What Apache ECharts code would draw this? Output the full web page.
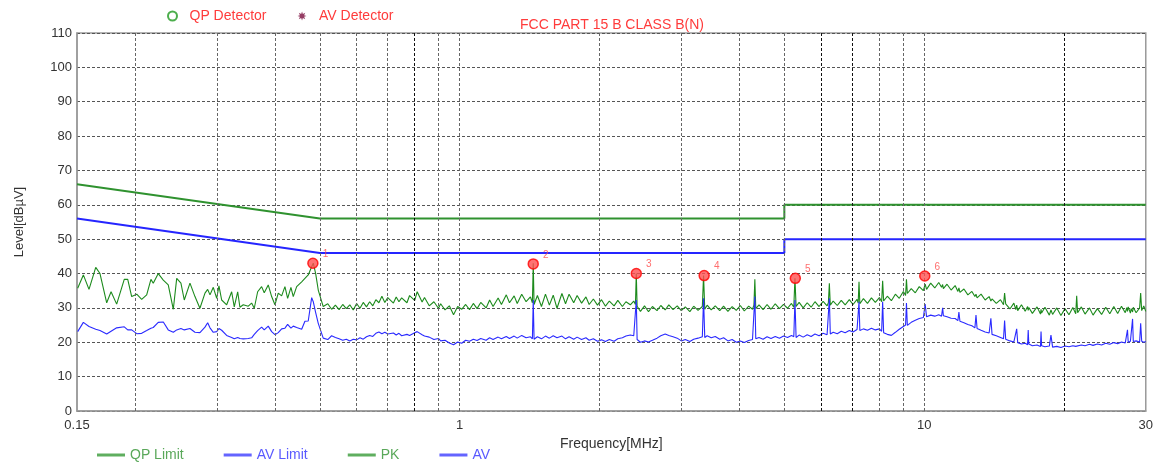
<!DOCTYPE html>
<html><head><meta charset="utf-8">
<script src="https://cdn.jsdelivr.net/npm/echarts@6/dist/echarts.min.js"></script>
<style>html,body{margin:0;padding:0;background:#fff}#c{width:1156px;height:462px}</style>
</head><body><div id="c"></div>
<script>
// ---- data (frequency in MHz, level in dBµV) ----
const freq = [
0.1505,0.1548,0.1592,0.1646,0.1681,0.1738,0.1776,0.1826,0.1896,0.1929,
0.1967,0.2017,0.2067,0.2119,0.2164,0.2189,0.2244,0.2301,0.2358,0.2418,
0.2459,0.2511,0.2553,0.2626,0.2692,0.2759,0.2829,0.2867,0.2900,0.2948,
0.2998,0.3032,0.3073,0.3150,0.3229,0.3271,0.3327,0.3364,0.3420,0.3506,
0.3565,0.3612,0.3673,0.3746,0.3795,0.3871,0.3937,0.4002,0.4068,0.4137,
0.4205,0.4262,0.4332,0.4382,0.4457,0.4569,0.4643,0.4720,0.4801,0.4839,
0.4897,0.4960,0.5084,
0.52,0.53,0.54,0.55,0.56,0.57,0.58,0.59,0.60,0.61,
0.62,0.63,0.64,0.65,0.66,0.67,0.68,0.69,0.70,0.72,
0.73,0.74,0.75,0.77,0.78,0.80,0.81,0.83,0.84,0.86,
0.88,0.90,0.91,0.93,0.95,0.97,0.99,1.01,1.03,1.05,
1.07,1.09,1.11,1.14,1.16,1.18,1.21,1.23,1.26,1.28,
1.31,1.33,1.36,1.39,1.42,1.434,1.44,1.446,1.47,1.50,
1.53,1.56,1.59,1.62,1.66,1.69,1.72,1.76,1.79,1.83,
1.87,1.90,1.94,1.98,2.02,2.06,2.10,2.15,2.19,2.24,
2.28,2.33,2.37,2.39,2.40,2.41,2.45,2.50,2.55,2.60,
2.66,2.71,2.77,2.82,2.88,2.94,3.00,3.06,3.13,3.19,
3.26,3.33,3.35,3.37,3.41,3.48,3.55,3.63,3.70,3.78,
3.86,3.94,4.02,4.10,4.19,4.27,4.30,4.32,4.34,4.41,
4.50,4.59,4.68,4.78,4.88,4.98,5.08,5.18,5.24,5.27,
5.30,5.38,5.49,5.60,5.71,5.82,5.94,6.06,6.18,6.22,
6.25,6.28,6.37,6.50,6.63,6.76,6.90,7.03,7.17,7.21,
7.24,7.27,7.40,7.55,7.70,7.85,8.01,8.10,8.14,8.18,
8.33,8.50,8.67,8.84,9.02,9.12,9.16,9.20,9.38,9.57,
9.76,9.96,10.05,10.12,10.33,10.54,10.75,10.90,10.96,11.00,
11.20,11.43,11.66,11.82,11.88,11.94,12.18,12.42,12.67,12.86,
12.93,13.00,13.26,13.53,13.80,13.92,14.00,14.3,14.6,14.82,
14.9,14.98,15.3,15.6,15.75,15.82,15.9,16.2,16.5,16.7,
16.75,16.8,17.1,17.5,17.8,17.85,17.9,18.2,18.6,18.75,
18.9,19.3,19.7,20.1,20.5,20.9,21.2,21.3,21.4,21.8,
22.2,22.7,23.1,23.6,24.1,24.6,25.1,25.6,26.1,26.6,
27.1,27.3,27.4,27.5,27.8,27.9,28.1,28.2,28.6,29.1,
29.25,29.4,29.7,30.0
];
const pk = [
35.7,39.6,35.4,41.8,40.0,31.5,34.7,31.1,38.3,38.3,
33.3,34.0,32.5,33.8,38.3,37.2,40.0,38.1,36.7,29.6,
38.6,37.2,32.3,37.2,33.3,29.9,34.3,35.4,33.8,36.0,
32.8,36.4,32.3,30.9,34.7,30.3,34.7,30.2,30.9,30.5,
31.4,29.9,34.7,36.2,34.4,36.7,33.3,30.9,34.3,33.5,
36.2,32.8,36.0,33.3,36.2,37.6,38.6,39.6,42.0,43.0,
40.0,35.2,30.4,
31.2,29.6,30.8,29.5,31.0,29.8,30.9,29.4,31.3,29.9,
31.6,30.3,31.8,30.6,32.4,31.5,33.4,31.6,33.0,31.4,
33.2,31.8,32.9,31.5,33.6,32.2,34.7,31.7,33.0,30.6,
31.8,29.9,31.2,29.4,30.6,28.0,30.4,29.6,31.0,29.5,
31.3,29.8,31.6,30.0,32.3,30.4,32.9,31.0,33.8,31.5,
33.5,31.3,34.0,31.8,33.2,31.5,43.0,31.0,33.6,30.4,
34.0,30.8,33.7,29.9,34.2,31.2,34.0,31.5,33.6,31.4,
33.2,31.0,32.6,30.8,32.4,30.5,32.0,30.6,32.2,30.4,
31.8,30.9,32.0,31.0,40.0,30.5,29.0,30.6,28.9,30.4,
29.2,30.7,29.4,30.9,29.5,30.6,29.2,30.3,28.9,30.5,
29.3,30.4,39.4,29.6,30.8,29.4,30.6,29.2,30.5,29.0,
30.4,29.3,30.7,29.1,30.5,29.6,30.8,38.3,29.8,30.9,
29.5,31.0,29.6,31.2,29.8,31.0,29.9,31.3,30.2,38.6,
30.4,31.6,30.0,31.5,30.2,31.8,30.4,31.9,30.6,31.5,
37.2,30.8,32.0,30.7,32.2,30.9,32.4,31.0,32.5,31.4,
37.6,31.2,32.7,31.3,32.9,31.6,33.0,31.8,37.9,32.0,
33.4,32.1,34.0,32.8,34.8,33.6,38.3,34.2,35.6,34.4,
36.2,35.0,36.9,35.4,37.2,35.8,37.4,36.0,36.8,35.6,
36.9,35.2,36.5,34.8,35.8,34.5,35.5,33.8,34.8,33.3,
34.0,32.9,34.0,32.3,33.3,32.0,32.6,31.3,32.4,30.9,
34.3,31.2,29.7,31.4,29.5,30.8,29.2,30.9,29.0,30.4,
29.3,30.1,28.4,30.3,28.2,29.6,28.5,30.2,27.9,29.4,
28.1,30.0,27.8,29.8,28.0,30.1,28.3,33.5,28.6,30.3,
28.2,30.0,27.9,29.8,28.1,30.2,28.3,30.4,28.4,30.5,
28.6,30.1,29.0,30.3,28.5,29.8,28.8,30.2,28.6,30.0,
34.3,29.2,30.6,29.0
];
const av = [
23.1,25.8,24.6,23.8,23.4,22.4,23.2,24.2,24.5,23.6,
23.6,22.5,22.6,23.4,24.1,24.3,25.8,25.9,23.6,22.9,
23.6,24.0,23.6,24.0,22.9,22.8,24.4,25.7,24.2,22.9,
23.1,24.0,23.5,22.0,21.4,21.0,21.4,21.1,21.0,21.1,
21.3,22.3,23.4,24.4,23.6,24.7,23.1,22.2,22.8,23.9,
24.1,25.2,24.1,24.7,24.3,23.8,26.1,26.2,33.0,31.8,
28.6,25.5,21.2,
20.8,21.9,21.4,21.0,20.6,20.9,20.4,20.9,20.7,21.3,
20.9,21.6,22.0,21.7,22.6,23.0,22.5,22.9,22.4,22.7,
22.1,22.6,21.9,22.3,22.0,22.8,23.1,22.2,21.8,21.5,
20.8,21.1,20.4,20.6,19.8,19.3,20.1,19.7,20.6,20.3,
20.9,20.5,21.1,20.6,21.3,20.8,21.5,21.0,21.7,21.1,
21.8,21.2,22.0,21.3,21.6,21.0,32.3,20.9,21.6,21.0,
21.8,21.2,21.9,21.3,21.8,21.0,21.6,20.9,21.5,20.8,
21.3,20.6,21.0,20.3,20.7,20.2,20.8,20.3,21.0,21.3,
21.8,22.1,21.9,22.2,32.3,20.8,20.0,20.4,20.1,20.6,
21.2,21.9,22.4,22.0,21.6,21.2,20.4,20.8,20.2,20.9,
21.2,21.6,32.8,21.4,21.9,21.3,21.7,20.9,21.3,20.4,
20.8,20.0,20.4,19.9,20.5,20.8,21.0,33.3,21.0,21.4,
20.9,21.6,21.1,21.7,21.2,21.8,21.4,22.0,21.6,32.3,
21.4,22.1,21.5,22.2,21.7,22.4,21.9,22.6,22.2,22.6,
32.8,22.4,22.9,22.5,23.2,22.8,23.4,23.0,23.7,23.3,
31.8,23.4,23.9,23.5,24.1,23.6,23.9,23.2,31.8,22.8,
22.3,22.0,22.9,23.8,24.6,25.0,31.4,24.9,25.8,26.4,
26.9,27.2,31.1,27.4,27.9,27.6,28.0,27.6,30.0,27.7,
27.4,27.0,26.9,26.3,28.8,26.1,25.7,25.2,24.8,24.2,
27.9,24.0,23.5,23.0,22.7,27.0,22.3,21.9,21.4,21.0,
26.3,20.9,20.4,20.1,19.8,23.9,19.9,19.5,19.7,19.3,
23.6,19.5,19.0,19.2,18.8,23.1,19.0,18.7,18.9,22.1,
18.6,18.8,18.5,18.9,18.7,19.0,18.8,19.1,18.9,19.2,
19.0,19.4,19.1,19.5,19.2,19.7,19.4,19.9,19.6,20.1,
19.8,20.2,23.6,20.0,20.3,20.1,26.8,20.2,20.4,20.1,
25.5,20.3,20.0,20.2
];
const limitFreq = [0.15, 0.5, 5, 5, 30];
const qpLimit = [66, 56, 56, 60, 60];
const avLimit = [56, 46, 46, 50, 50];
const markerFreq = [0.483, 1.44, 2.40, 3.36, 5.28, 10.03];
const markerLevel = [43.0, 42.8, 40.0, 39.4, 38.6, 39.3];
const markerLabel = ['1', '2', '3', '4', '5', '6'];
const xTickLabels = [0.15, 1, 10, 30];
const gridFreq = [0.2,0.3,0.4,0.5,0.6,0.7,0.8,0.9,1,2,3,4,5,6,7,8,9,10,20];
const darkGridFreq = [0.8, 6, 7, 20];

// ---- chart ----
const FONT = '"Liberation Sans", Arial, sans-serif';
const zip = (xs, ys) => xs.map((x, i) => [x, ys[i]]);
const STAR = 'path://M5,0 L5.96,2.69 L8.54,1.46 L7.31,4.04 L10,5 L7.31,5.96 L8.54,8.54 L5.96,7.31 L5,10 L4.04,7.31 L1.46,8.54 L2.69,5.96 L0,5 L2.69,4.04 L1.46,1.46 L4.04,2.69 Z';

const chart = echarts.init(document.getElementById('c'), null, {renderer: 'canvas'});
chart.setOption({
  animation: false,
  backgroundColor: '#fff',
  textStyle: {fontFamily: FONT},
  graphic: [{
    type: 'text', x: 612, y: 25, z: 10,
    style: {text: 'FCC PART 15 B CLASS B(N)', fill: '#ff3b3b', font: '14px ' + FONT, align: 'center', verticalAlign: 'middle'}
  }],
  legend: [{
    data: [{name: 'QP Detector', icon: 'emptyCircle'}, {name: 'AV Detector', icon: STAR}],
    left: 162, top: 4, itemWidth: 24, itemHeight: 9, itemGap: 31, selectedMode: false,
    textStyle: {color: '#ff3b3b', fontSize: 14, fontFamily: FONT}
  }, {
    data: [
      {name: 'QP Limit', itemStyle: {color: '#5fae5f'}, textStyle: {color: '#5aa85a'}},
      {name: 'AV Limit', itemStyle: {color: '#6464ff'}, textStyle: {color: '#5a5aff'}},
      {name: 'PK', itemStyle: {color: '#5fae5f'}, textStyle: {color: '#5aa85a'}},
      {name: 'AV', itemStyle: {color: '#6464ff'}, textStyle: {color: '#5a5aff'}}
    ],
    icon: 'rect', left: 92, top: 443, itemWidth: 28, itemHeight: 3, itemGap: 40, selectedMode: false,
    textStyle: {fontSize: 14, fontFamily: FONT}
  }],
  grid: {left: 77, right: 10, top: 33, bottom: 51, show: true, borderColor: '#9a9a9a', borderWidth: 1.5},
  xAxis: {
    type: 'log', logBase: 10, min: 0.15, max: 30,
    axisLine: {show: true, lineStyle: {color: '#9a9a9a', width: 1.5}},
    axisTick: {show: false},
    splitLine: {show: false},
    axisLabel: {customValues: xTickLabels, color: '#333', fontSize: 13, margin: 8, showMinLabel: true, showMaxLabel: true,
      formatter: v => String(Math.round(v * 100) / 100)},
    name: 'Frequency[MHz]', nameLocation: 'middle', nameGap: 25,
    nameTextStyle: {color: '#333', fontSize: 14, fontFamily: FONT}
  },
  yAxis: {
    type: 'value', min: 0, max: 110, interval: 10,
    axisLine: {show: true, lineStyle: {color: '#9a9a9a', width: 1.5}},
    axisTick: {show: false},
    splitLine: {show: true, lineStyle: {color: '#555', type: [3, 2], width: 1}},
    axisLabel: {color: '#333', fontSize: 13, margin: 5},
    name: 'Level[dBµV]', nameLocation: 'middle', nameGap: 51,
    nameTextStyle: {color: '#333', fontSize: 13, fontFamily: FONT}
  },
  series: [
    {
      name: 'QP Limit', type: 'line', data: zip(limitFreq, qpLimit), z: 3,
      symbol: 'none', lineStyle: {color: '#2f922f', width: 2}, itemStyle: {color: '#5fae5f'},
      markLine: {
        silent: true, symbol: ['none', 'none'], label: {show: false}, animation: false,
        data: gridFreq.map(f => ({xAxis: f, lineStyle: {
          color: darkGridFreq.includes(f) ? '#111' : '#666', type: [3, 2], width: 1}}))
      }
    },
    {
      name: 'AV Limit', type: 'line', data: zip(limitFreq, avLimit), z: 3,
      symbol: 'none', lineStyle: {color: '#2525ff', width: 2}, itemStyle: {color: '#6464ff'}
    },
    {
      name: 'PK', type: 'line', data: zip(freq, pk), z: 4,
      symbol: 'none', lineStyle: {color: '#1c8a1c', width: 1.1}, itemStyle: {color: '#5fae5f'}
    },
    {
      name: 'AV', type: 'line', data: zip(freq, av), z: 4,
      symbol: 'none', lineStyle: {color: '#2a2aff', width: 1.1}, itemStyle: {color: '#6464ff'}
    },
    {name: 'QP Detector', type: 'scatter', data: [], itemStyle: {color: '#1f9a1f'}},
    {name: 'AV Detector', type: 'scatter', data: [], itemStyle: {color: '#7b0d3d'}},
    {
      name: 'Markers', type: 'scatter', z: 6,
      data: zip(markerFreq, markerLevel).map((d, i) => ({value: d, label: {formatter: markerLabel[i]}})),
      symbol: 'circle', symbolSize: 10,
      itemStyle: {color: '#ff5050', borderColor: '#ff0000', borderWidth: 1.5},
      label: {show: true, position: 'right', offset: [-1, -9], color: '#ff4a4a', fontSize: 10, fontFamily: FONT}
    }
  ]
});
</script>
</body></html>
